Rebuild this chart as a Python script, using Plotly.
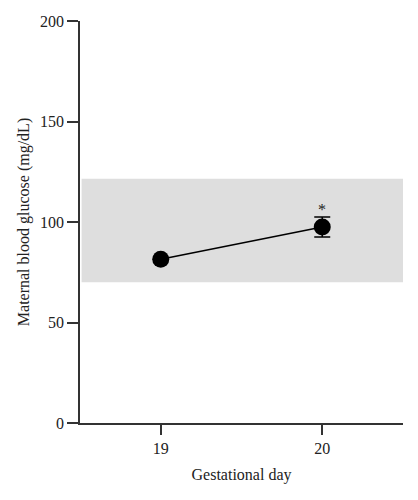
import plotly.graph_objects as go

days = [19, 20]
glucose = [81.5, 97.5]
sem = [0, 5]
band_low = 70
band_high = 121.5
sig_marks = ["", "*"]
y_ticks = [0, 50, 100, 150, 200]

font_family = "Liberation Serif, DejaVu Serif, serif"

fig = go.Figure()
fig.add_shape(type="rect", xref="x", yref="y", x0=18.51, x1=20.5,
              y0=band_low, y1=band_high, fillcolor="#dedede",
              line=dict(width=0), layer="below")
fig.add_trace(go.Scatter(
    x=days, y=glucose, mode="lines+markers",
    line=dict(color="black", width=1.5),
    marker=dict(color="black", size=17),
    error_y=dict(type="data", array=sem, visible=True, color="black",
                 thickness=1.5, width=8),
    showlegend=False,
))
for d, g, s, m in zip(days, glucose, sem, sig_marks):
    if m:
        fig.add_annotation(x=d, y=g + s, text=m, showarrow=False,
                           yanchor="bottom", yshift=-3,
                           font=dict(size=16, color="#222", family=font_family))

tick_font = dict(family=font_family, size=16, color="#222")
title_font = dict(family=font_family, size=16, color="#222")

fig.update_layout(
    width=410, height=492,
    margin=dict(l=72, r=15, t=13, b=77),
    plot_bgcolor="white", paper_bgcolor="white",
    font=dict(family=font_family, size=16, color="#222"),
    xaxis=dict(range=[18.5, 20.5], tickvals=days, ticktext=[str(d) for d in days],
               showgrid=False, zeroline=False, showline=True, automargin=False,
               linecolor="#333", linewidth=1.5, ticks="outside",
               ticklen=10, tickwidth=1.5, tickcolor="#333", tickfont=tick_font,
               title=dict(text="Gestational day", standoff=13, font=title_font)),
    yaxis=dict(range=[0, 200], tickvals=y_ticks,
               showgrid=False, zeroline=False, showline=True, automargin=False,
               linecolor="#333", linewidth=1.5, ticks="outside",
               ticklen=11, tickwidth=1.5, tickcolor="#333", tickfont=tick_font,
               title=dict(text="Maternal blood glucose (mg/dL)", standoff=6,
                          font=title_font)),
)

fig.write_html("out.html")
